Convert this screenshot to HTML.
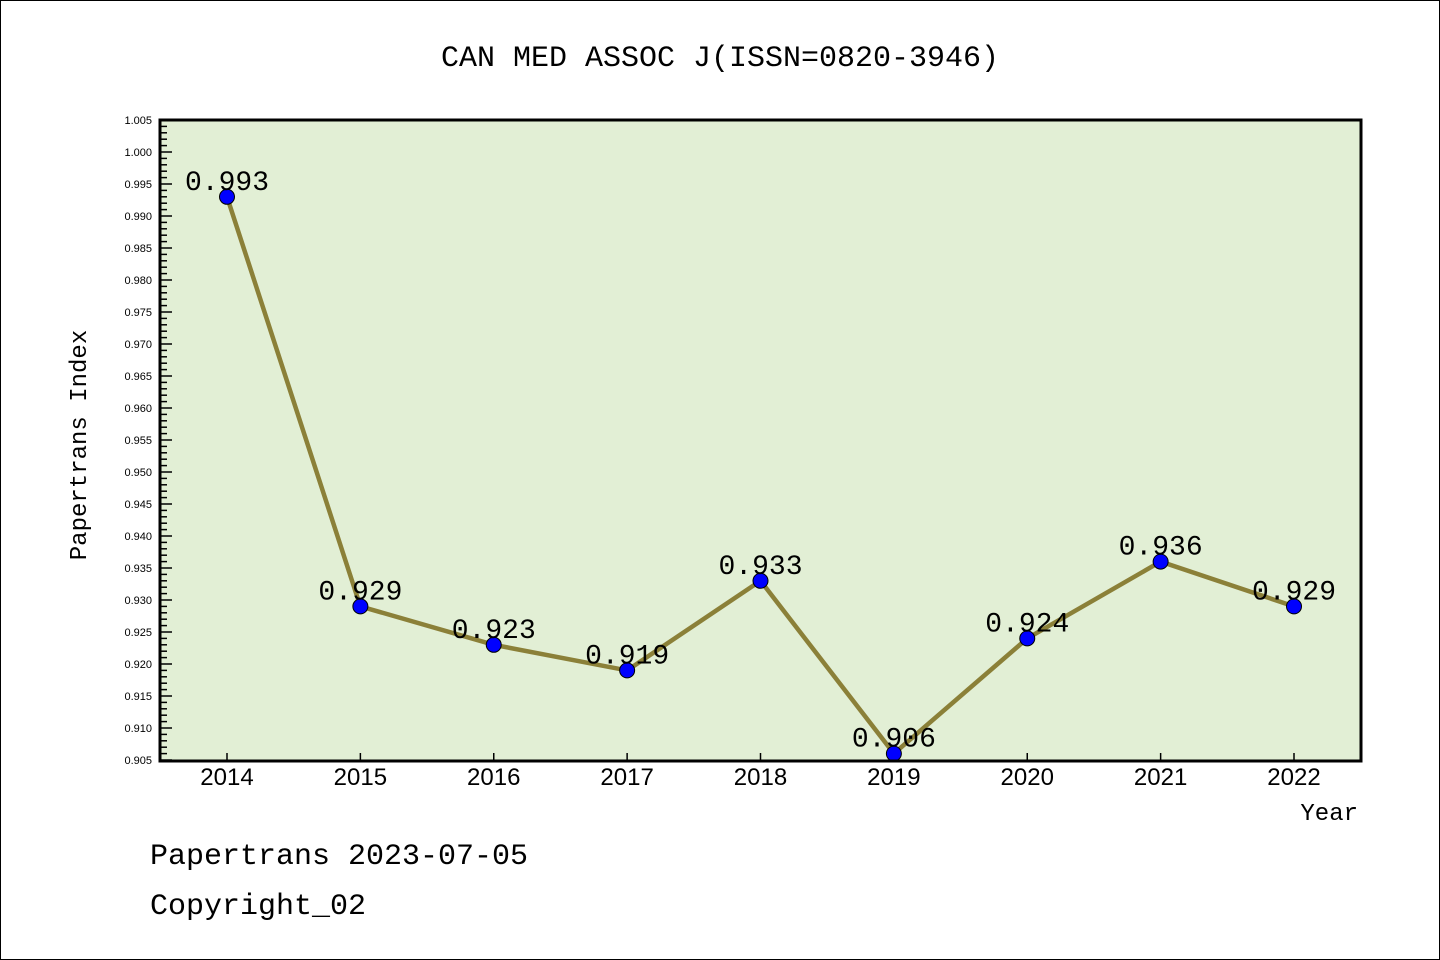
<!DOCTYPE html>
<html><head><meta charset="utf-8"><style>
body{margin:0;background:#fff}
svg{display:block}
text{font-family:"Liberation Mono","WenQuanYi Zen Hei",monospace}
</style></head><body>
<svg id="chart" width="1440" height="960" xmlns="http://www.w3.org/2000/svg">
<rect x="0.5" y="0.5" width="1439" height="959" fill="#fff" stroke="#000"/>
<text x="720" y="66" font-size="30" text-anchor="middle">CAN MED ASSOC J(ISSN=0820-3946)</text>
<rect x="160" y="120" width="1201" height="641" fill="#e2efd5"/>
<g id="axes"></g>
<g id="marks"></g>
<rect x="160" y="120" width="1201" height="641" fill="none" stroke="#000" stroke-width="3"/>
<text x="86" y="445" font-size="24" text-anchor="middle" transform="rotate(-90 86 445)">Papertrans Index</text>
<text x="1358" y="820" font-size="24" text-anchor="end">Year</text>
<text x="150" y="864" font-size="30">Papertrans 2023-07-05</text>
<text x="150" y="914" font-size="30">Copyright_02</text>
</svg>
<script>
const years=[2014,2015,2016,2017,2018,2019,2020,2021,2022];
const values=[0.993,0.929,0.923,0.919,0.933,0.906,0.924,0.936,0.929];
const labels=["0.993","0.929","0.923","0.919","0.933","0.906","0.924","0.936","0.929"];
const yMin=0.905,yMax=1.005;
const NS="http://www.w3.org/2000/svg";
function X(i){return 227+i*(1294-227)/(years.length-1);}
function Y(v){return 760-(v-yMin)/(yMax-yMin)*640;}
function mk(t,a,p){const e=document.createElementNS(NS,t);for(const k in a)e.setAttribute(k,a[k]);p.appendChild(e);return e;}
const ax=document.getElementById('axes'),mg=document.getElementById('marks');
for(let k=0;k<=100;k++){
 const v=yMin+k*0.001,y=Y(v),major=k%5===0;
 const t=mk('line',{x1:160,x2:major?172:167,y1:y,y2:y,stroke:'#000','stroke-width':1.5},ax);
 
 
 if(major){const l=mk('text',{x:152,y:y+4,'text-anchor':'end',style:'font-family:"Liberation Sans",sans-serif;font-size:11px'},ax);l.textContent=v.toFixed(3);
 
 }
}
years.forEach((yr,i)=>{
 const x=X(i);
 const t=mk('line',{x1:x,x2:x,y1:760,y2:753,stroke:'#000','stroke-width':1.5},ax);
 
 
 const l=mk('text',{x:x,y:785,'text-anchor':'middle',style:'font-family:"Liberation Sans",sans-serif;font-size:24px'},ax);l.textContent=yr;
 
 
});
const pl=mk('polyline',{points:values.map((v,i)=>X(i)+','+Y(v)).join(' '),fill:'none',stroke:'#8b8038','stroke-width':4.5},mg);


values.forEach((v,i)=>{
 const c=mk('circle',{cx:X(i),cy:Y(v),r:7.5,fill:'#0000ff',stroke:'#000','stroke-width':1},mg);
 
 
 const t=mk('text',{x:X(i),y:Y(v)-7,'font-size':28,'text-anchor':'middle'},mg);t.textContent=labels[i];
 
 
});
</script>
</body></html>
